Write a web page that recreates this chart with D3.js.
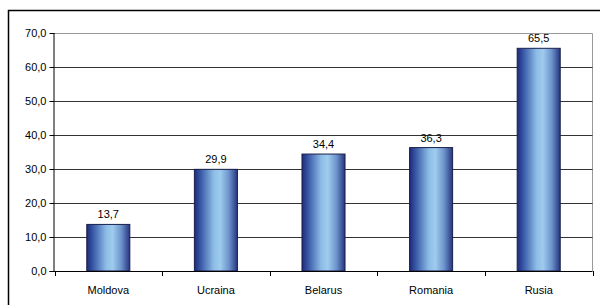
<!DOCTYPE html>
<html><head><meta charset="utf-8">
<script src="https://cdn.jsdelivr.net/npm/d3@7"></script>
<style>body{margin:0;background:#fff}svg{display:block}</style>
</head><body><svg id="c" width="600" height="305"></svg>
<script>
const categories = ["Moldova","Ucraina","Belarus","Romania","Rusia"];
const values = [13.7,29.9,34.4,36.3,65.5];
const yTicks = [0,10,20,30,40,50,60,70];

const svg = d3.select("#c");
const W=600,H=305;
const L=54.5,R=592.5,T=33,B=271;
const fmt = v => v.toFixed(1).replace(".", ",");

// outer frame
svg.append("path").attr("d",`M8.5,${H+2}V10.5H${W+2}`).attr("fill","none").attr("stroke","#000").attr("stroke-width",1.5);

const defs = svg.append("defs");
const g = defs.append("linearGradient").attr("id","bg").attr("x1","0").attr("x2","1").attr("y1","0").attr("y2","0");
[[0,"#1d2a78"],[0.15,"#3a5aa8"],[0.45,"#8dbde6"],[0.6,"#9fcbee"],[0.8,"#6d94cc"],[1,"#26357f"]].forEach(s=>g.append("stop").attr("offset",s[0]).attr("stop-color",s[1]));

const x = d3.scaleBand().domain(categories).range([L,R]).paddingInner(0).paddingOuter(0);
const y = d3.scaleLinear().domain([0,70]).range([B,T]);

// plot area border (gray)
svg.append("path").attr("d",`M${L},${T+0.5}H${R}V${B}`).attr("fill","none").attr("stroke","#999").attr("stroke-width",1);

// gridlines
svg.append("g").selectAll("line").data(yTicks.filter(d=>d>0&&d<70)).join("line")
  .attr("x1",L).attr("x2",R).attr("y1",d=>Math.round(y(d))+0.5).attr("y2",d=>Math.round(y(d))+0.5)
  .attr("stroke","#333").attr("stroke-width",1);

// bars
const bw = x.bandwidth()*0.4;
svg.append("g").selectAll("rect").data(values).join("rect")
  .attr("x",(d,i)=>x(categories[i])+x.bandwidth()/2-bw/2)
  .attr("width",bw)
  .attr("y",d=>y(d)).attr("height",d=>B-y(d))
  .attr("fill","url(#bg)").attr("stroke","#1a1f4a").attr("stroke-width",1);

// value labels
svg.append("g").selectAll("text").data(values).join("text")
  .attr("x",(d,i)=>x(categories[i])+x.bandwidth()/2)
  .attr("y",d=>y(d)-6)
  .attr("text-anchor","middle").attr("font-family","Liberation Sans, Arial, sans-serif").attr("font-size",11).attr("fill","#000")
  .text(fmt);

// y axis
const ya = svg.append("g").attr("transform",`translate(${L},0)`)
  .call(d3.axisLeft(y).tickValues(yTicks).tickFormat(fmt).tickSize(5).tickPadding(3));
ya.select(".domain").attr("stroke","#000").attr("d",`M-0.5,${T}V${B}`);
ya.selectAll(".tick line").attr("stroke","#000");
ya.selectAll("text").attr("font-family","Liberation Sans, Arial, sans-serif").attr("font-size",11).attr("fill","#000");

// x axis
const xa = svg.append("g").attr("transform",`translate(0,${B})`);
xa.append("line").attr("x1",L-5).attr("x2",R).attr("y1",0.5).attr("y2",0.5).attr("stroke","#000");
xa.selectAll("line.t").data(categories.map(c=>x(c)).concat([R])).join("line").attr("class","t")
  .attr("x1",d=>Math.round(d)+0.5).attr("x2",d=>Math.round(d)+0.5).attr("y1",0).attr("y2",5).attr("stroke","#000");
xa.selectAll("text").data(categories).join("text")
  .attr("x",d=>x(d)+x.bandwidth()/2).attr("y",23)
  .attr("text-anchor","middle").attr("font-family","Liberation Sans, Arial, sans-serif").attr("font-size",11).attr("fill","#000")
  .text(d=>d);
</script></body></html>
